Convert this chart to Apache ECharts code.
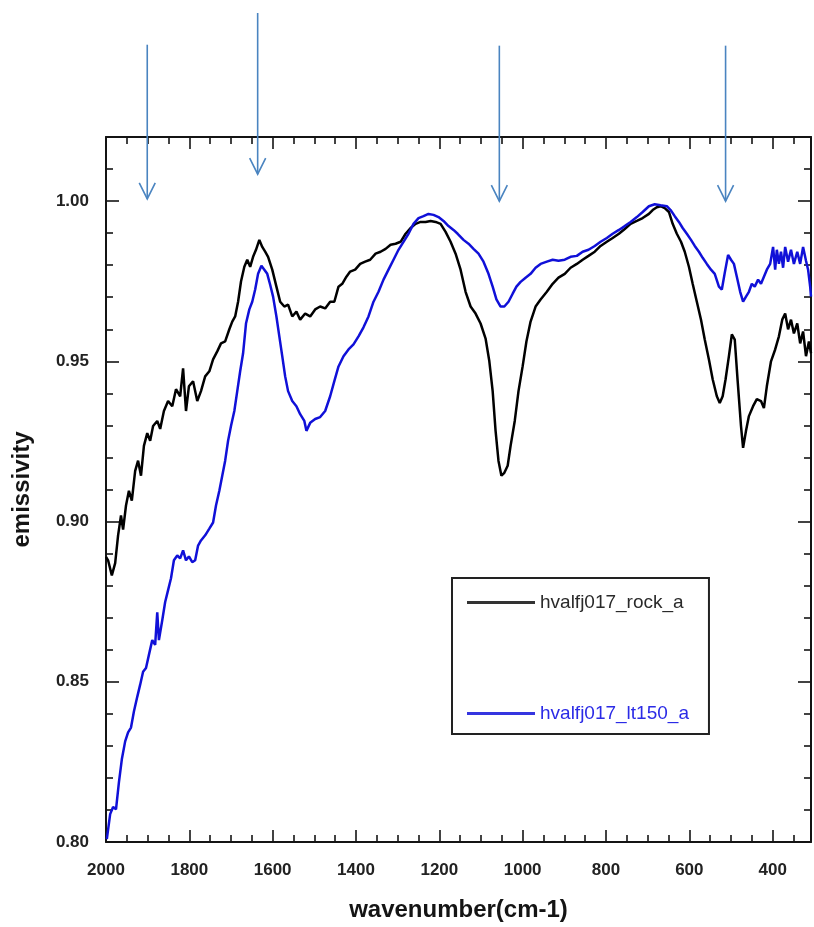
<!DOCTYPE html>
<html>
<head>
<meta charset="utf-8">
<script src="https://cdn.jsdelivr.net/npm/echarts@6/dist/echarts.min.js"></script>
<style>
  html, body { margin: 0; padding: 0; background: #ffffff; }
  #chart { width: 814px; height: 927px; }
</style>
</head>
<body>
<div id="chart"></div>
<script>
// Emissivity spectra, wavenumber (cm-1) vs emissivity
const rockName = 'hvalfj017_rock_a';
const rockWn = [2000,1995,1986,1978,1971,1964,1959,1952,1945,1938,1930,1923,1916,1909,1901,1894,1887,1877,1870,1861,1851,1841,1832,1822,1815,1808,1801,1791,1781,1772,1762,1752,1743,1733,1724,1714,1704,1697,1690,1683,1676,1668,1661,1654,1647,1640,1632,1625,1618,1611,1601,1591,1582,1572,1563,1553,1543,1534,1522,1510,1498,1486,1474,1462,1452,1442,1433,1423,1414,1402,1390,1378,1366,1353,1341,1329,1317,1305,1293,1281,1269,1257,1245,1233,1221,1209,1197,1185,1173,1161,1149,1137,1125,1113,1101,1089,1080,1072,1065,1058,1051,1044,1036,1029,1019,1010,1000,991,981,969,957,942,928,914,899,885,870,856,842,827,813,798,784,769,755,741,726,712,697,688,678,669,659,649,640,630,620,611,601,592,582,572,563,553,544,534,527,520,513,505,498,491,484,476,471,464,457,447,438,428,421,414,404,394,385,377,370,363,356,349,341,334,327,320,313,308];
const rockEm = [0.8890,0.8879,0.8832,0.8870,0.8957,0.9019,0.8975,0.9050,0.9096,0.9065,0.9158,0.9190,0.9143,0.9236,0.9276,0.9252,0.9298,0.9314,0.9289,0.9345,0.9376,0.9360,0.9413,0.9391,0.9478,0.9345,0.9422,0.9438,0.9376,0.9407,0.9453,0.9469,0.9506,0.9531,0.9556,0.9562,0.9600,0.9624,0.9640,0.9686,0.9749,0.9795,0.9817,0.9795,0.9826,0.9848,0.9879,0.9857,0.9842,0.9826,0.9786,0.9733,0.9686,0.9671,0.9677,0.9640,0.9655,0.9630,0.9649,0.9640,0.9662,0.9671,0.9665,0.9686,0.9686,0.9733,0.9742,0.9764,0.9780,0.9786,0.9804,0.9811,0.9817,0.9836,0.9842,0.9851,0.9864,0.9867,0.9873,0.9898,0.9916,0.9929,0.9935,0.9935,0.9938,0.9935,0.9929,0.9904,0.9873,0.9836,0.9786,0.9717,0.9671,0.9649,0.9618,0.9571,0.9500,0.9407,0.9283,0.9189,0.9143,0.9152,0.9174,0.9236,0.9314,0.9407,0.9485,0.9562,0.9624,0.9671,0.9693,0.9717,0.9742,0.9761,0.9773,0.9792,0.9804,0.9817,0.9829,0.9842,0.9860,0.9873,0.9885,0.9898,0.9913,0.9929,0.9938,0.9947,0.9960,0.9972,0.9981,0.9984,0.9978,0.9966,0.9929,0.9898,0.9873,0.9842,0.9795,0.9742,0.9686,0.9630,0.9568,0.9506,0.9444,0.9391,0.9370,0.9391,0.9444,0.9516,0.9584,0.9568,0.9438,0.9298,0.9230,0.9283,0.9329,0.9360,0.9382,0.9376,0.9354,0.9422,0.9500,0.9537,0.9578,0.9630,0.9649,0.9600,0.9630,0.9587,0.9618,0.9556,0.9593,0.9516,0.9562,0.9525];

const lt150Name = 'hvalfj017_lt150_a';
const lt150Wn = [1998,1990,1983,1976,1969,1962,1954,1947,1940,1933,1925,1918,1911,1904,1897,1889,1882,1877,1873,1865,1858,1851,1844,1837,1829,1822,1815,1808,1801,1793,1786,1779,1772,1762,1752,1743,1736,1728,1721,1714,1707,1700,1692,1685,1678,1671,1664,1656,1649,1642,1635,1627,1620,1613,1606,1599,1591,1584,1577,1570,1563,1553,1543,1534,1524,1519,1510,1498,1486,1474,1462,1452,1442,1430,1418,1406,1394,1382,1370,1358,1346,1334,1322,1310,1298,1286,1274,1262,1250,1238,1226,1214,1202,1190,1178,1166,1156,1142,1130,1118,1106,1094,1082,1072,1063,1053,1044,1034,1024,1015,1005,993,981,969,957,942,928,914,899,885,870,856,842,827,813,798,784,769,755,741,726,712,697,683,669,654,645,635,625,616,606,596,587,577,568,558,548,539,529,522,515,507,500,493,486,478,471,464,457,450,443,435,428,421,414,406,399,394,390,385,380,375,370,363,356,349,341,334,327,320,315,310,308];
const lt150Em = [0.8009,0.8087,0.8109,0.8102,0.8186,0.8258,0.8314,0.8342,0.8357,0.8407,0.8453,0.8491,0.8531,0.8543,0.8584,0.8630,0.8615,0.8717,0.8630,0.8692,0.8749,0.8786,0.8823,0.8879,0.8894,0.8885,0.8910,0.8879,0.8891,0.8873,0.8879,0.8925,0.8941,0.8957,0.8978,0.8997,0.9050,0.9096,0.9143,0.9190,0.9252,0.9298,0.9345,0.9407,0.9469,0.9525,0.9618,0.9662,0.9686,0.9724,0.9773,0.9798,0.9786,0.9773,0.9739,0.9702,0.9640,0.9578,0.9516,0.9453,0.9407,0.9376,0.9360,0.9335,0.9314,0.9283,0.9308,0.9320,0.9326,0.9345,0.9391,0.9438,0.9484,0.9516,0.9537,0.9553,0.9578,0.9606,0.9640,0.9686,0.9717,0.9755,0.9786,0.9817,0.9848,0.9873,0.9898,0.9929,0.9947,0.9953,0.9960,0.9957,0.9950,0.9938,0.9922,0.9910,0.9898,0.9879,0.9867,0.9851,0.9836,0.9811,0.9773,0.9733,0.9693,0.9671,0.9671,0.9686,0.9711,0.9733,0.9748,0.9761,0.9773,0.9792,0.9804,0.9811,0.9817,0.9814,0.9817,0.9826,0.9829,0.9842,0.9848,0.9860,0.9873,0.9885,0.9898,0.9910,0.9922,0.9935,0.9950,0.9966,0.9984,0.9990,0.9987,0.9984,0.9972,0.9953,0.9935,0.9916,0.9898,0.9879,0.9860,0.9842,0.9823,0.9804,0.9786,0.9773,0.9733,0.9724,0.9776,0.9832,0.9817,0.9804,0.9764,0.9717,0.9686,0.9702,0.9717,0.9742,0.9733,0.9755,0.9742,0.9764,0.9786,0.9804,0.9857,0.9786,0.9848,0.9804,0.9842,0.9792,0.9857,0.9811,0.9848,0.9804,0.9842,0.9804,0.9857,0.9814,0.9786,0.9733,0.9702];

// Axis ticks and labels
const xTickLabels = [2000, 1800, 1600, 1400, 1200, 1000, 800, 600, 400];
const yTickLabels = [0.80, 0.85, 0.90, 0.95, 1.00];
const X_MIN = 308, X_MAX = 2000, Y_MIN = 0.80, Y_MAX = 1.02;

// Marker arrows: wavenumber, tail emissivity, tip emissivity
const arrowWn  = [1901, 1636, 1056, 513];
const arrowTop = [1.0488, 1.0587, 1.0485, 1.0485];
const arrowTip = [1.0007, 1.0084, 1.0000, 1.0000];

const xMinor = [];
for (let v = 350; v < X_MAX; v += 50) if (v % 200 !== 0) xMinor.push(v);
const yMinor = [];
for (let i = 81; i <= 102; i++) if (i % 5 !== 0) yMinor.push(i / 100);

const FONT = "'Liberation Sans', Arial, sans-serif";
const INK = '#141414';

function zip(a, b) { return a.map((x, i) => [x, b[i]]); }

function xAxisDef(pos, ticks, len, major, extra) {
  return Object.assign({
    type: 'value', position: pos, min: X_MIN, max: X_MAX, inverse: true,
    axisLine: { show: major, onZero: false, lineStyle: { color: INK, width: 2 } },
    axisTick: { show: true, inside: true, length: len, customValues: ticks,
                lineStyle: { color: INK, width: 1.6 } },
    axisLabel: { show: false },
    splitLine: { show: false }
  }, extra || {});
}
function yAxisDef(pos, ticks, len, major, extra) {
  return Object.assign({
    type: 'value', position: pos, min: Y_MIN, max: Y_MAX,
    axisLine: { show: major, onZero: false, lineStyle: { color: INK, width: 2 } },
    axisTick: { show: true, inside: true, length: len, customValues: ticks,
                lineStyle: { color: INK, width: 1.6 } },
    axisLabel: { show: false },
    splitLine: { show: false }
  }, extra || {});
}

const chart = echarts.init(document.getElementById('chart'), null, { renderer: 'canvas' });

chart.setOption({
  backgroundColor: '#ffffff',
  animation: false,
  grid: { left: 106, right: 3, top: 137, bottom: 84, containLabel: false },
  xAxis: [
    xAxisDef('bottom', xTickLabels, 12, true, {
      name: 'wavenumber(cm-1)', nameLocation: 'middle', nameGap: 56,
      nameTextStyle: { fontFamily: FONT, fontSize: 24, fontWeight: 'bold', color: INK },
      axisLabel: { show: true, customValues: xTickLabels, margin: 20,
                   fontFamily: FONT, fontSize: 17, fontWeight: 'bold', color: '#222',
                   formatter: v => String(v) }
    }),
    xAxisDef('bottom', xMinor, 7, false),
    xAxisDef('top', xTickLabels, 12, true),
    xAxisDef('top', xMinor, 7, false)
  ],
  yAxis: [
    yAxisDef('left', yTickLabels, 13, true, {
      name: 'emissivity', nameLocation: 'middle', nameGap: 72, nameRotate: 90,
      nameTextStyle: { fontFamily: FONT, fontSize: 24, fontWeight: 'bold', color: INK },
      axisLabel: { show: true, customValues: yTickLabels, margin: 17,
                   fontFamily: FONT, fontSize: 17, fontWeight: 'bold', color: '#222',
                   formatter: v => v.toFixed(2) }
    }),
    yAxisDef('left', yMinor, 7, false),
    yAxisDef('right', yTickLabels, 13, true),
    yAxisDef('right', yMinor, 7, false)
  ],
  legend: {
    orient: 'vertical', left: 452, top: 578,
    padding: [14, 20, 10, 15],
    itemGap: 90, itemWidth: 68, itemHeight: 3, icon: 'rect',
    borderColor: '#222', borderWidth: 2, backgroundColor: '#ffffff',
    textStyle: { fontFamily: FONT, fontSize: 19, lineHeight: 21 },
    data: [
      { name: rockName, textStyle: { color: '#2a2a2a' } },
      { name: lt150Name, textStyle: { color: '#2b2be6' } }
    ]
  },
  series: [
    {
      name: rockName, type: 'line', xAxisIndex: 0, yAxisIndex: 0,
      data: zip(rockWn, rockEm), showSymbol: false, symbol: 'none',
      lineStyle: { color: '#000000', width: 2.5 }, itemStyle: { color: '#333333' },
      z: 3
    },
    {
      name: lt150Name, type: 'line', xAxisIndex: 0, yAxisIndex: 0,
      data: zip(lt150Wn, lt150Em), showSymbol: false, symbol: 'none',
      lineStyle: { color: '#1010d8', width: 2.5 }, itemStyle: { color: '#3535e0' },
      z: 4
    }
  ]
});

// Arrows pointing at the absorption features, placed through the axis scales
const ARROW = '#4a84c0';
const arrowEls = [];
arrowWn.forEach((wn, i) => {
  const tail = chart.convertToPixel({ xAxisIndex: 0, yAxisIndex: 0 }, [wn, arrowTop[i]]);
  const tip = chart.convertToPixel({ xAxisIndex: 0, yAxisIndex: 0 }, [wn, arrowTip[i]]);
  arrowEls.push({
    type: 'line', z: 10,
    shape: { x1: tail[0], y1: tail[1], x2: tip[0], y2: tip[1] },
    style: { stroke: ARROW, lineWidth: 1.6 }
  });
  arrowEls.push({
    type: 'polyline', z: 10,
    shape: { points: [[tip[0] - 8, tip[1] - 16], [tip[0], tip[1]], [tip[0] + 8, tip[1] - 16]] },
    style: { stroke: ARROW, lineWidth: 1.6, fill: null }
  });
});
chart.setOption({ graphic: arrowEls });
</script>
</body>
</html>
